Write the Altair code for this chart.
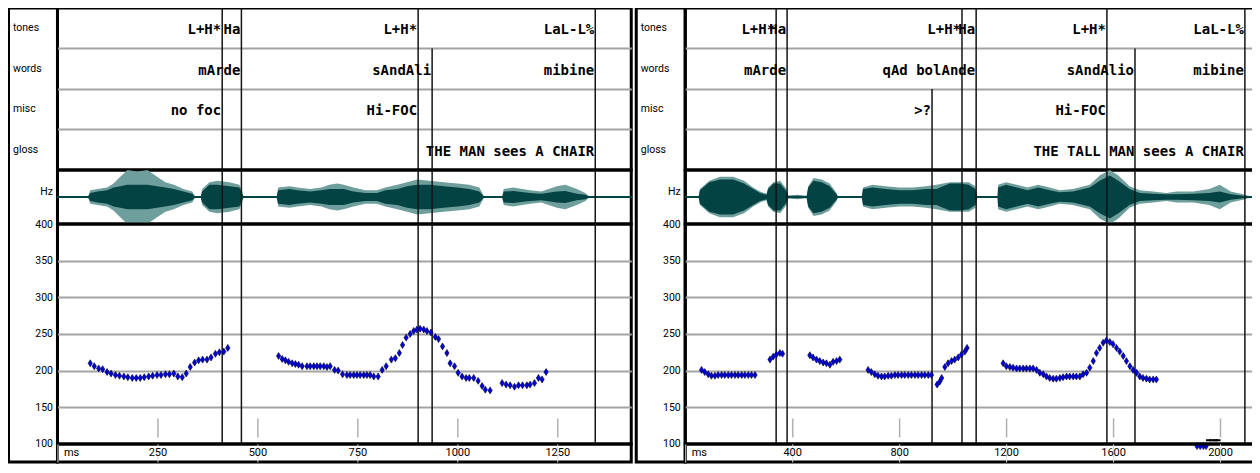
import altair as alt
import pandas as pd

TIERS = ["tones", "words", "misc", "gloss"]
ANN_FONT = "DejaVu Sans Mono"
SMALL_FONT = "Roboto"

# ---------------- left panel ----------------
L_T_MAX = 1435
L_TICKS = [0, 250, 500, 750, 1000, 1250]

L_tones_text = ["L+H*", "Ha", "L+H*", "LaL-L%"]
L_tones_end = [412, 460, 902, 1345]
L_words_text = ["mArde", "sAndAli", "mibine"]
L_words_end = [460, 937, 1345]
L_misc_text = ["no foc", "Hi-FOC"]
L_misc_end = [412, 902]
L_gloss_text = ["THE MAN sees A CHAIR"]
L_gloss_end = [1345]

L_bound_t = [412, 460, 902, 937, 1345]
L_bound_from = ["tones", "tones", "tones", "words", "tones"]

L_wave_t = [0, 76, 82, 100, 124, 140, 157, 175, 200, 225, 249, 270, 291, 315, 337, 345, 358, 362, 380, 400,
            430, 455, 462, 466, 548, 552, 580, 600, 632, 660, 680, 700, 716, 740, 770, 799, 820, 850, 874, 900,
            930, 966, 1000, 1030, 1055, 1066, 1070, 1112, 1116, 1140, 1182, 1210, 1249, 1270, 1299, 1320, 1332, 1435]
L_wave_outer = [0, 0, .25, .3, .35, .5, .75, 1.0, .95, 1.0, .75, .55, .45, .3, .2, 0, 0, .3, .55, .6,
                .55, .45, .2, 0, 0, .35, .4, .35, .3, .35, .45, .5, .45, .35, .25, .25, .35, .45, .55, .65,
                .6, .55, .5, .45, .35, .05, 0, 0, .3, .35, .25, .2, .4, .45, .3, .15, 0, 0]
L_wave_inner = [0, 0, .15, .2, .25, .35, .4, .45, .45, .45, .4, .35, .3, .2, .12, 0, 0, .2, .45, .45,
                .4, .35, .1, 0, 0, .25, .3, .25, .2, .25, .3, .3, .3, .2, .15, .15, .25, .3, .4, .45,
                .45, .4, .35, .3, .2, .03, 0, 0, .2, .22, .15, .12, .2, .22, .12, .08, 0, 0]

L_f0_t = [82, 92, 103, 113, 124, 134, 145, 155, 166, 176, 187, 197, 207, 217, 228, 238, 249, 259, 270, 280,
          291, 301, 312, 322, 332, 343, 353, 363, 374, 384, 395, 405, 416, 426,
          553, 562, 570, 578, 587, 595, 603, 612, 624, 632, 641, 649, 657, 666, 674, 682,
          693, 702, 713, 724, 732, 741, 749, 757, 766, 774, 782, 791, 802, 812, 822, 835, 845, 855, 863, 872,
          882, 891, 899, 907, 916, 924, 934, 945, 953, 963, 974, 982, 993, 1002, 1012, 1022, 1030, 1041, 1052, 1062,
          1070, 1082,
          1112, 1122, 1132, 1143, 1153, 1163, 1174, 1182, 1193, 1203, 1212, 1222]
L_f0_hz = [210, 206, 203, 202, 198, 196, 194, 193, 192, 191, 190, 190, 190, 191, 192, 193, 194, 194, 195, 195,
           196, 192, 191, 196, 205, 211, 214, 215, 215, 218, 223, 225, 226, 231,
           220, 216, 214, 212, 210, 209, 208, 206, 206, 206, 206, 206, 206, 206, 205, 206,
           201, 200, 195, 194, 194, 194, 194, 194, 194, 194, 194, 192, 192, 201, 206, 215, 217, 224, 235, 245,
           250, 254, 256, 257, 256, 254, 252, 246, 243, 233, 224, 210, 206, 197, 192, 190, 190, 190, 186, 179,
           174, 173,
           183, 181, 180, 178, 180, 180, 180, 181, 183, 190, 188, 198]

# ---------------- right panel ----------------
R_T_MAX = 2157
R_TICKS = [0, 400, 800, 1200, 1600, 2000]

R_tones_text = ["L+H*", "Ha", "L+H*", "Ha", "L+H*", "LaL-L%"]
R_tones_end = [340, 381, 1035, 1088, 1577, 2093]
R_words_text = ["mArde", "qAd bolAnde", "sAndAlio", "mibine"]
R_words_end = [381, 1088, 1682, 2093]
R_misc_text = [">?", "Hi-FOC"]
R_misc_end = [923, 1577]
R_gloss_text = ["THE TALL MAN sees A CHAIR"]
R_gloss_end = [2093]

R_bound_t = [340, 381, 923, 1035, 1088, 1577, 1682, 2093]
R_bound_from = ["tones", "tones", "misc", "tones", "tones", "tones", "words", "tones"]

R_wave_t = [0, 50, 55, 90, 130, 179, 220, 254, 280, 304, 310, 330, 355, 379, 385, 420, 454, 460, 480, 510,
            540, 566, 572, 660, 665, 700, 750, 800, 850, 900, 940, 964, 990, 1030, 1060, 1085, 1092, 1168, 1170, 1200,
            1240, 1280, 1320, 1363, 1400, 1450, 1513, 1550, 1588, 1620, 1662, 1700, 1750, 1800, 1837, 1900, 1960,
            1999, 2040, 2086, 2123, 2157]
R_wave_outer = [0, 0, .3, .6, .75, .75, .6, .35, .2, .12, .35, .55, .6, .3, .05, .08, .05, .4, .7, .65,
                .5, .15, 0, 0, .35, .45, .4, .35, .35, .4, .45, .5, .55, .55, .55, .4, 0, 0, .45, .55,
                .45, .35, .45, .35, .25, .3, .45, .8, 1.0, .8, .4, .25, .2, .15, .2, .2, .3, .45, .2, .1, 0, 0]
R_wave_inner = [0, 0, .25, .55, .65, .65, .5, .3, .15, .08, .3, .5, .5, .2, .05, .05, .03, .35, .6, .55,
                .4, .1, 0, 0, .3, .35, .3, .25, .25, .3, .3, .4, .5, .5, .45, .3, 0, 0, .35, .45,
                .35, .25, .35, .25, .18, .2, .35, .6, .8, .6, .3, .15, .12, .1, .1, .12, .15, .2, .1, .05, 0, 0]

R_f0_t = [61, 73, 86, 98, 111, 123, 136, 148, 161, 173, 186, 198, 211, 223, 236, 248, 261,
          317, 329, 341, 354, 364,
          466, 478, 491, 503, 516, 528, 541, 553, 566, 578,
          684, 696, 709, 721, 734, 746, 759, 771, 784, 796, 809, 821, 834, 846, 859, 871, 884, 896, 909, 921,
          942, 952, 959, 971, 983, 996, 1008, 1021, 1033, 1046, 1054,
          1189, 1201, 1214, 1226, 1239, 1251, 1264, 1276, 1289, 1301, 1314, 1326, 1339, 1351, 1363, 1376,
          1388, 1401, 1413, 1426, 1438, 1451, 1463, 1476, 1488, 1501, 1513, 1526, 1538, 1550, 1563, 1575,
          1588, 1600, 1613, 1625, 1638, 1650, 1663, 1675, 1688, 1700, 1712, 1725, 1737, 1750, 1762,
          1914, 1926, 1938, 1948]
R_f0_hz = [201, 198, 195, 193, 193, 194, 194, 194, 194, 194, 194, 194, 194, 194, 194, 194, 194,
           215, 219, 222, 224, 223,
           221, 218, 215, 213, 211, 210, 208, 212, 213, 215,
           201, 198, 195, 193, 192, 192, 193, 193, 194, 194, 194, 194, 194, 194, 194, 194, 194, 194, 194, 194,
           181, 185, 190, 205, 210, 213, 215, 218, 222, 226, 231,
           210, 206, 205, 204, 203, 203, 203, 203, 203, 203, 201, 197, 195, 192, 190, 189,
           189, 190, 191, 192, 192, 192, 192, 192, 195, 197, 204, 213, 224, 231, 238, 241,
           239, 236, 231, 226, 220, 213, 206, 201, 197, 192, 190, 189, 188, 188, 188,
           97, 97, 97, 97]
R_uv_t = [1958, 1970, 1982, 1992]
R_uv_hz = [105, 105, 105, 105]

# ---------------- styling ----------------
TIER_H, WAVE_H, PITCH_H, AXIS_H = 162, 54, 220, 18
LABEL_W = 49
DARK = "#034343"
LIGHT = "#6f9f9c"
BOUND = "#141414"
GRID = "#a4a4a4"
DIAMOND = "M0,-1L0.62,0L0,1L-0.62,0Z"


def tier_df(groups):
    rows = []
    for tier, texts, ends in groups:
        for s, e in zip(texts, ends):
            rows.append({"tier": tier, "label": s, "end": e})
    return pd.DataFrame(rows)


def tier_chart(groups, bt, bf, tmax, width):
    xs = alt.Scale(domain=[0, tmax], nice=False, zero=False)
    ys = alt.Scale(type="band", domain=TIERS, paddingInner=0, paddingOuter=0)
    yaxis = alt.Axis(title=None, domain=False, ticks=False, tickSize=0, labelAlign="left",
                     labelPadding=45, labelBaseline="middle", bandPosition=0, labelOffset=0,
                     grid=True, gridColor=GRID, gridWidth=2,
                     gridOpacity={"condition": {"test": "datum.value == 'tones'", "value": 0}, "value": 1},
                     labelFont=SMALL_FONT, labelFontSize=10.5, labelColor="black")
    txt = alt.Chart(tier_df(groups)).mark_text(
        align="right", baseline="middle", dx=-1, dy=2, font=ANN_FONT, fontSize=14, fontWeight="bold",
        color="black"
    ).encode(
        x=alt.X("end:Q", scale=xs, axis=None),
        y=alt.Y("tier:N", scale=ys, axis=yaxis, bandPosition=0.5),
        text="label:N",
    )
    rl = alt.Chart(pd.DataFrame({"t": bt, "start": bf})).mark_rule(color=BOUND, strokeWidth=1.5).encode(
        x=alt.X("t:Q", scale=xs, axis=None),
        y=alt.Y("start:N", scale=ys, axis=yaxis, bandPosition=0),
        y2=alt.value(TIER_H),
    )
    return alt.layer(rl, txt).properties(width=width, height=TIER_H)


def wave_chart(wt, wo, wi, bt, tmax, width):
    xs = alt.Scale(domain=[0, tmax], nice=False, zero=False)
    ys = alt.Scale(domain=[-1, 1], nice=False, zero=False)
    yaxis = alt.Axis(title="Hz", titleAngle=0, titleAlign="right", titleBaseline="middle", titleX=-5,
                     titleY=21, labels=False, ticks=False, domain=False, grid=False,
                     titleFont=SMALL_FONT, titleFontSize=10.5, titleFontWeight="normal", titleColor="black")
    df = pd.DataFrame({"t": wt, "outer": wo, "inner": wi})
    base = alt.Chart(df).transform_calculate(nouter="-datum.outer", ninner="-datum.inner")
    outer = base.mark_area(color=LIGHT, interpolate="linear").encode(
        x=alt.X("t:Q", scale=xs, axis=None),
        y=alt.Y("outer:Q", scale=ys, axis=yaxis),
        y2="nouter:Q",
    )
    inner = base.mark_area(color=DARK, interpolate="linear").encode(
        x=alt.X("t:Q", scale=xs, axis=None),
        y=alt.Y("inner:Q", scale=ys, axis=yaxis),
        y2="ninner:Q",
    )
    center = alt.Chart(df).mark_rule(color=DARK, strokeWidth=1.5).encode(
        y=alt.Y(datum=0, scale=ys, axis=yaxis)
    )
    rl = alt.Chart(pd.DataFrame({"t": bt})).mark_rule(color=BOUND, strokeWidth=1.5).encode(
        x=alt.X("t:Q", scale=xs, axis=None)
    )
    return alt.layer(outer, inner, center, rl).properties(width=width, height=WAVE_H)


def pitch_chart(ft, fh, bt, ticks, tmax, width, ut=None, uh=None):
    xs = alt.Scale(domain=[0, tmax], nice=False, zero=False)
    ys = alt.Scale(domain=[100, 400], nice=False, zero=False)
    yaxis = alt.Axis(title=None, values=[100, 150, 200, 250, 300, 350, 400], domain=False, ticks=False,
                     tickSize=0, labelPadding=5, grid=True, gridColor=GRID, gridWidth=2,
                     gridOpacity={"condition": {"test": "datum.value == 100 || datum.value == 400", "value": 0},
                                  "value": 1},
                     labelFont=SMALL_FONT, labelFontSize=10.5, labelColor="black", labelFlush=False)
    xaxis = alt.Axis(title=None, values=ticks[1:], labels=False, domain=False, ticks=True, tickSize=19,
                     tickColor="#b0b0b0", tickWidth=1.5, offset=-26, grid=False)
    pts = alt.Chart(pd.DataFrame({"t": ft, "hz": fh})).mark_point(
        shape=DIAMOND, size=49, filled=True, color="#0000dd", stroke="#000033", strokeWidth=0.6, opacity=1
    ).encode(
        x=alt.X("t:Q", scale=xs, axis=xaxis),
        y=alt.Y("hz:Q", scale=ys, axis=yaxis),
    )
    rl = alt.Chart(pd.DataFrame({"t": bt})).mark_rule(color=BOUND, strokeWidth=1.5).encode(
        x=alt.X("t:Q", scale=xs, axis=xaxis)
    )
    layers = [rl, pts]
    if ut is not None:
        uv = alt.Chart(pd.DataFrame({"t": ut, "hz": uh})).mark_point(
            shape="M-1,0L1,0", size=30, color="black", strokeWidth=2, opacity=1
        ).encode(
            x=alt.X("t:Q", scale=xs, axis=xaxis),
            y=alt.Y("hz:Q", scale=ys, axis=yaxis),
        )
        layers.append(uv)
    return alt.layer(*layers).properties(width=width, height=PITCH_H)


def axis_chart(ticks, tmax, width):
    xs = alt.Scale(domain=[0, tmax], nice=False, zero=False)
    ax = alt.Axis(title=None, values=ticks, domain=False, ticks=False, tickSize=0, labelPadding=3,
                  offset=-AXIS_H, labelFlush=False, format="d",
                  labelExpr="datum.value == 0 ? 'ms' : datum.label",
                  labelAlign={"condition": {"test": "datum.value == 0", "value": "left"}, "value": "center"},
                  labelOffset={"condition": {"test": "datum.value == 0", "value": 6}, "value": 0},
                  labelFont=SMALL_FONT, labelFontSize=11, labelColor="black")
    return alt.Chart(pd.DataFrame({"t": ticks})).mark_rule(opacity=0).encode(
        x=alt.X("t:Q", scale=xs, axis=ax)
    ).properties(width=width, height=AXIS_H)


def label_col():
    return alt.Chart(pd.DataFrame({"v": [0]})).mark_rule(opacity=0).encode(
        x=alt.X("v:Q", axis=None)
    ).properties(width=LABEL_W, height=TIER_H + WAVE_H + PITCH_H + AXIS_H)


def panel(groups, bt, bf, wt, wo, wi, ft, fh, ticks, tmax, width, ut=None, uh=None):
    rows = alt.vconcat(
        tier_chart(groups, bt, bf, tmax, width),
        wave_chart(wt, wo, wi, bt, tmax, width),
        pitch_chart(ft, fh, bt, ticks, tmax, width, ut, uh),
        axis_chart(ticks, tmax, width),
        spacing=0, bounds="flush",
    )
    return alt.hconcat(label_col(), rows, spacing=0, bounds="flush")


left = panel(
    [("tones", L_tones_text, L_tones_end), ("words", L_words_text, L_words_end),
     ("misc", L_misc_text, L_misc_end), ("gloss", L_gloss_text, L_gloss_end)],
    L_bound_t, L_bound_from, L_wave_t, L_wave_outer, L_wave_inner, L_f0_t, L_f0_hz,
    L_TICKS, L_T_MAX, 574,
)
right = panel(
    [("tones", R_tones_text, R_tones_end), ("words", R_words_text, R_words_end),
     ("misc", R_misc_text, R_misc_end), ("gloss", R_gloss_text, R_gloss_end)],
    R_bound_t, R_bound_from, R_wave_t, R_wave_outer, R_wave_inner, R_f0_t, R_f0_hz,
    R_TICKS, R_T_MAX, 577, R_uv_t, R_uv_hz,
)

chart = alt.hconcat(left, right, spacing=0).properties(
    padding={"left": -1.5, "top": -3, "right": -13, "bottom": 0}, background="white"
).configure_view(stroke="black", strokeWidth=3)

chart.save("out.html", embed_options={"renderer": "svg", "actions": False})
